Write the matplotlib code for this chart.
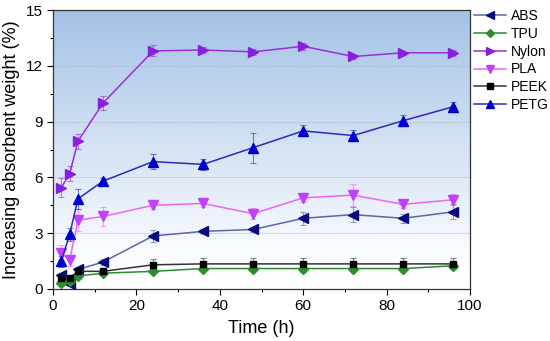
import numpy as np
import matplotlib
matplotlib.use("Agg")
import matplotlib.pyplot as plt
from matplotlib.colors import LinearSegmentedColormap

plt.rcParams['font.family'] = ['Liberation Sans', 'DejaVu Sans']

time = [2, 4, 6, 12, 24, 36, 48, 60, 72, 84, 96]

abs_y = [0.75, 0.25, 1.05, 1.45, 2.85, 3.1, 3.2, 3.8, 4.0, 3.8, 4.15]
abs_e = [0.1, 0.1, 0.15, 0.15, 0.3, 0.15, 0.15, 0.35, 0.4, 0.25, 0.4]
tpu_y = [0.3, 0.45, 0.7, 0.85, 0.95, 1.1, 1.1, 1.1, 1.1, 1.1, 1.25]
tpu_e = [0.1, 0.1, 0.1, 0.1, 0.1, 0.1, 0.1, 0.2, 0.2, 0.2, 0.2]
nylon_y = [5.45, 6.2, 7.95, 10.0, 12.8, 12.85, 12.75, 13.05, 12.5, 12.7, 12.7]
nylon_e = [0.5, 0.4, 0.4, 0.4, 0.3, 0.15, 0.15, 0.2, 0.15, 0.1, 0.15]
pla_y = [1.95, 1.55, 3.7, 3.9, 4.5, 4.6, 4.05, 4.9, 5.05, 4.55, 4.8]
pla_e = [0.4, 0.3, 0.6, 0.5, 0.2, 0.2, 0.3, 0.2, 0.6, 0.2, 0.3]
peek_y = [0.6, 0.6, 0.95, 0.95, 1.3, 1.35, 1.35, 1.35, 1.35, 1.35, 1.35]
peek_e = [0.1, 0.1, 0.1, 0.1, 0.3, 0.3, 0.3, 0.3, 0.3, 0.3, 0.3]
petg_y = [1.5, 2.95, 4.85, 5.8, 6.85, 6.7, 7.6, 8.5, 8.25, 9.05, 9.8]
petg_e = [0.3, 0.35, 0.55, 0.15, 0.4, 0.3, 0.8, 0.3, 0.3, 0.3, 0.25]

series = [
    ("ABS", abs_y, abs_e, '<', '#0a0a80', '#5868a8'),
    ("TPU", tpu_y, tpu_e, 'D', '#2e8b2e', '#2e8b2e'),
    ("Nylon", nylon_y, nylon_e, '>', '#8a1ee0', '#9a30d8'),
    ("PLA", pla_y, pla_e, 'v', '#c040ff', '#ee66ee'),
    ("PEEK", peek_y, peek_e, 's', '#000000', '#333333'),
    ("PETG", petg_y, petg_e, '^', '#0000cc', '#2a2ac0'),
]

fig = plt.figure(figsize=(5.5, 3.41), dpi=100)
ax = fig.add_axes([53/550, 1-289/341, (470-53)/550, (289-10)/341])

# gradient background
grad = np.linspace(0, 1, 256).reshape(-1, 1)
cmap = LinearSegmentedColormap.from_list('bg', [(0, '#ffffff'), (0.12, '#fbfcff'), (1.0, '#a3c2e6')])
ax.imshow(grad, extent=[0, 1, 0, 1], transform=ax.transAxes, origin='lower',
          aspect='auto', cmap=cmap, zorder=0)

for v in [3, 6, 9, 12]:
    ax.axhline(v, color='#aab4c0', lw=0.6, ls=(0, (1, 1)), zorder=1)

handles = []
for name, y, e, m, mc, lc in series:
    ms = 5 if m in ('D', 's') else 7
    ax.errorbar(time, y, yerr=e, fmt='none', ecolor=lc, elinewidth=0.8,
                capsize=2.5, capthick=0.8, alpha=0.6, zorder=2)
    ln, = ax.plot(time, y, color=lc, lw=1.1, marker=m, ms=ms,
                  mfc=mc, mec=mc, zorder=3, label=name)
    handles.append(ln)

ax.set_xlim(0, 100)
ax.set_ylim(0, 15)
ax.set_xticks([0, 20, 40, 60, 80, 100])
ax.set_xticks([10, 30, 50, 70, 90], minor=True)
ax.set_yticks([0, 3, 6, 9, 12, 15])
ax.set_yticks([1.5, 4.5, 7.5, 10.5, 13.5], minor=True)
ax.tick_params(which='major', direction='out', length=4, width=0.8, labelsize=11)
ax.tick_params(which='minor', direction='out', length=2.5, width=0.8)
for s in ax.spines.values():
    s.set_linewidth(0.9)
    s.set_color('#333333')

ax.set_xlabel('Time (h)', fontsize=13, labelpad=5)
ax.set_ylabel('Increasing absorbent weight (%)', fontsize=13, labelpad=4)

fig.legend(handles=handles, loc='upper left', bbox_to_anchor=(471/550, 1-6/341),
           frameon=False, fontsize=10, handlelength=2.3, handletextpad=0.35,
           labelspacing=0.28, borderaxespad=0, borderpad=0.2, markerscale=0.75)

fig.savefig('out.png', dpi=100)
